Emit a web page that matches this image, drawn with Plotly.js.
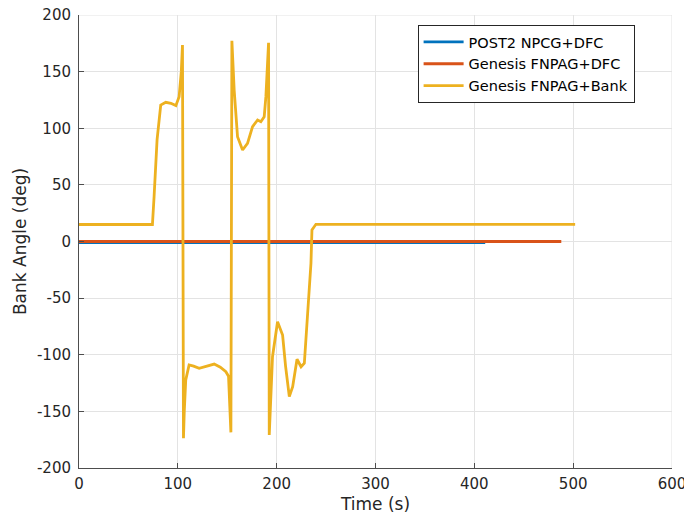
<!DOCTYPE html>
<html>
<head>
<meta charset="utf-8">
<script src="https://cdn.plot.ly/plotly-3.0.1.min.js"></script>
<style>html,body{margin:0;padding:0;background:#fff;}</style>
</head>
<body>
<div id="chart" style="width:684px;height:516px;"></div>
<script>
const seriesNames = ["POST2 NPCG+DFC", "Genesis FNPAG+DFC", "Genesis FNPAG+Bank"];

const post2Time = [0, 411];
const post2Bank = [-1, -1];

const genDfcTime = [0, 488];
const genDfcBank = [0, 0];

const genBankTime = [0, 74.3, 76, 79, 82.7, 87.8, 93, 98, 101.3, 103.5, 104.7, 105.2, 105.7, 106.5, 108, 111.4, 116, 121.6, 130, 136.8, 143, 148.6, 151.3, 153.7, 154.7, 155.5, 157, 160.4, 165.5, 170.5, 175.6, 180.7, 184, 187.4, 189.1, 191.8, 192.5, 195.8, 200.9, 206, 209, 212.8, 216.2, 220.6, 224.7, 228, 229.7, 232, 234.7, 235.7, 239.7, 300, 400, 502];
const genBankBank = [15, 15, 40, 90, 120.5, 122.9, 122, 120, 127.9, 150, 173.5, 60, -173.8, -150, -122.3, -109, -110, -112, -110, -108.2, -111, -115, -119, -168.5, 177.3, 160, 133.8, 92.5, 80.8, 86.7, 101.4, 107.3, 105.8, 110.2, 127.9, 175.5, -170.9, -101.7, -70.8, -82.6, -110, -137, -128.2, -104, -110.6, -107.5, -87, -55, -19.2, 10.2, 15.2, 15.2, 15.2, 15.2];

const xTicks = [0, 100, 200, 300, 400, 500, 600];
const yTicks = [-200, -150, -100, -50, 0, 50, 100, 150, 200];

const colors = ["#0072BD", "#D95319", "#EDB120"];

const traces = [
  {x: post2Time, y: post2Bank, name: seriesNames[0]},
  {x: genDfcTime, y: genDfcBank, name: seriesNames[1]},
  {x: genBankTime, y: genBankBank, name: seriesNames[2]}
].map((t, i) => Object.assign(t, {
  type: "scatter", mode: "lines",
  line: {color: colors[i], width: 2.8}
}));

const axisCommon = {
  showline: true, linecolor: "#4d4d4d", linewidth: 1,
  ticks: "inside", ticklen: 5, tickcolor: "#4d4d4d",
  showgrid: true, gridcolor: "#e3e3e3", gridwidth: 1,
  zeroline: false,
  tickfont: {family: "DejaVu Sans", size: 15, color: "#262626"},
  mirror: false, tickmode: "array", ticklabeloverflow: "allow"
};

const xMax = xTicks[xTicks.length - 1];
const yMax = yTicks[yTicks.length - 1];

const layout = {
  width: 684, height: 516,
  margin: {l: 79, r: 12, t: 15, b: 48},
  paper_bgcolor: "#fff", plot_bgcolor: "#fff",
  font: {family: "DejaVu Sans", color: "#262626"},
  xaxis: Object.assign({}, axisCommon, {
    range: [0, 600.01], tickvals: xTicks, ticktext: xTicks.map(String),
    ticklabelstandoff: 2,
    title: {text: "Time (s)", font: {family: "DejaVu Sans", size: 17, color: "#262626"}, standoff: 6}
  }),
  yaxis: Object.assign({}, axisCommon, {
    range: [-200, 200.01], tickvals: yTicks, ticktext: yTicks.map(String),
    ticklabelstandoff: 4,
    title: {text: "Bank Angle (deg)", font: {family: "DejaVu Sans", size: 17, color: "#262626"}, standoff: 6}
  }),
  shapes: [
    {type: "line", xref: "x", yref: "paper", x0: xMax, x1: xMax, y0: 0, y1: 1,
     line: {color: "#e3e3e3", width: 1}, layer: "below"},
    {type: "line", xref: "paper", yref: "y", x0: 0, x1: 1, y0: yMax, y1: yMax,
     line: {color: "#e3e3e3", width: 1}, layer: "below"}
  ],
  showlegend: true,
  legend: {
    x: 0.571, y: 0.978, xanchor: "left", yanchor: "top",
    bgcolor: "#fff", bordercolor: "#262626", borderwidth: 1,
    font: {family: "DejaVu Sans", size: 14.5, color: "#000"},
    tracegroupgap: 0, itemwidth: 40
  }
};

Plotly.newPlot("chart", traces, layout, {staticPlot: true, displayModeBar: false});
</script>
</body>
</html>
